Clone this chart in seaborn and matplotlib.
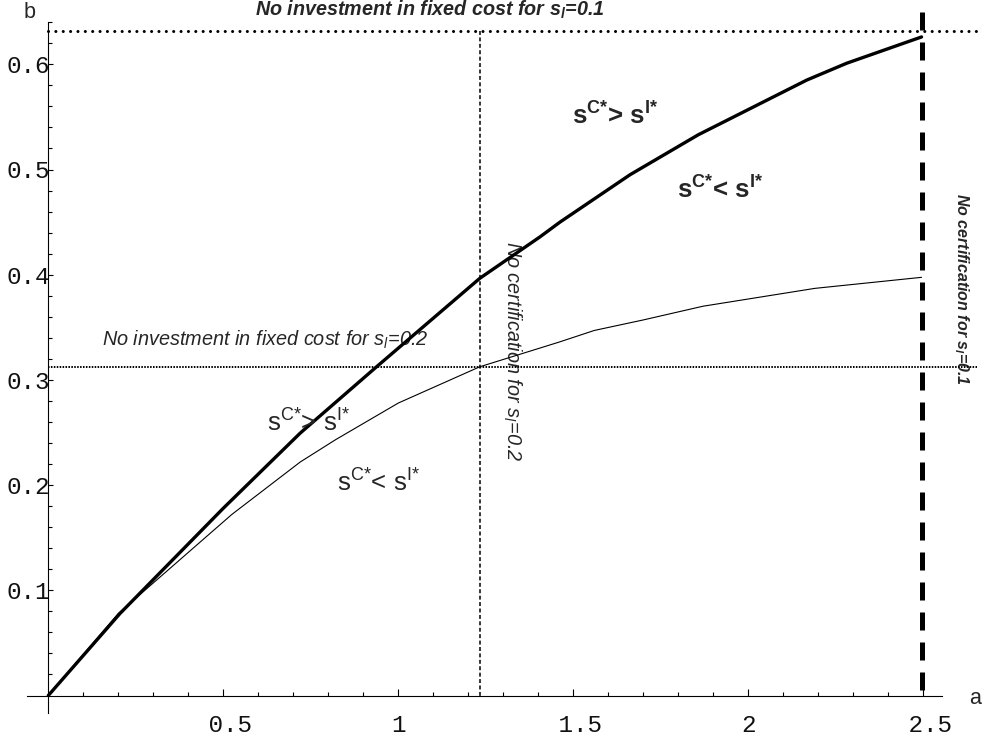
import numpy as np
import pandas as pd
import matplotlib
matplotlib.use("Agg")
import matplotlib.pyplot as plt
import seaborn as sns

# Boundary b(a) for s_l = 0.1 (thick) and s_l = 0.2 (thin)
a_thick = [0.0, 0.205, 0.5, 0.72, 0.938, 1.233, 1.405, 1.462, 1.662, 1.857, 2.167, 2.281, 2.495]
b_thick = [0.0, 0.078, 0.178, 0.2495, 0.3125, 0.3966, 0.436, 0.450, 0.495, 0.533, 0.585, 0.601, 0.626]

a_thin = [0.0, 0.2, 0.3, 0.524, 0.72, 0.82, 1.0, 1.233, 1.46, 1.56, 1.70, 1.87, 2.19, 2.495]
b_thin = [0.0, 0.078, 0.107, 0.172, 0.222, 0.243, 0.278, 0.3125, 0.336, 0.347, 0.357, 0.370, 0.387, 0.3975]

# Threshold lines
b_no_invest_01 = 0.632   # no investment in fixed cost, s_l = 0.1
b_no_invest_02 = 0.3125  # no investment in fixed cost, s_l = 0.2
a_no_cert_01 = 2.495     # no certification, s_l = 0.1
a_no_cert_02 = 1.233     # no certification, s_l = 0.2

x_major = [0.5, 1.0, 1.5, 2.0, 2.5]
x_major_labels = [" 0.5", "1", " 1.5", "2", " 2.5"]
y_major = [0.1, 0.2, 0.3, 0.4, 0.5, 0.6]
y_major_labels = ["0.1", "0.2", "0.3", "0.4", "0.5", "0.6"]

sns.set_theme(style="white")
plt.rcParams["font.family"] = ["Liberation Sans", "DejaVu Sans"]
plt.rcParams["mathtext.fontset"] = "custom"
plt.rcParams["mathtext.rm"] = "Liberation Sans"
plt.rcParams["mathtext.it"] = "Liberation Sans:italic"
plt.rcParams["mathtext.bf"] = "Liberation Sans:bold"
plt.rcParams["mathtext.bfit"] = "Liberation Sans:italic:bold"

fig = plt.figure(figsize=(9.88, 7.44), dpi=100)
ax = fig.add_axes([0, 0, 1, 1])
ax.set_facecolor("white")
ax.set_xlim(-48.3 / 350, (988 - 48.3) / 350)
ax.set_ylim((695.5 - 744) / 1052, 695.5 / 1052)

# Curves
curves = pd.DataFrame({"a": a_thick, "b": b_thick})
sns.lineplot(data=curves, x="a", y="b", ax=ax, color="black", lw=2.4, zorder=5)
curves_thin = pd.DataFrame({"a": a_thin, "b": b_thin})
sns.lineplot(data=curves_thin, x="a", y="b", ax=ax, color="black", lw=0.8, zorder=5)

# Threshold lines
ax.plot([0, 2.67], [b_no_invest_01] * 2, color="black", lw=2.2,
        linestyle=(0, (0.01, 2.4)), dash_capstyle="round", zorder=4)
ax.plot([a_no_cert_01] * 2, [0.65, 0.0], color="black", lw=3.6,
        linestyle=(0, (3.6, 2.4)), dash_capstyle="butt", zorder=4)
ax.plot([a_no_cert_02] * 2, [b_no_invest_01, 0.0], color="black", lw=1.1,
        linestyle=(0, (2.6, 1.6)), zorder=4)
ax.plot([0, 2.653], [b_no_invest_02] * 2, color="black", lw=1.4,
        linestyle=(0, (0.8, 0.7)), zorder=4)

# Axes through the origin
for side in ["top", "right"]:
    ax.spines[side].set_visible(False)
ax.spines["left"].set_position(("data", 0))
ax.spines["bottom"].set_position(("data", 0))
ax.spines["left"].set_bounds(-0.0166, 0.64)
ax.spines["bottom"].set_bounds(-0.061, 2.553)
for side in ["left", "bottom"]:
    ax.spines[side].set_color("black")
    ax.spines[side].set_linewidth(0.8)

ax.set_xticks(x_major)
ax.set_xticklabels(x_major_labels)
ax.set_xticks(np.round(np.arange(0.1, 2.51, 0.1), 2), minor=True)
ax.set_yticks(y_major)
ax.set_yticklabels(y_major_labels)
ax.set_yticks(np.round(np.arange(0.02, 0.641, 0.02), 2), minor=True)
ax.tick_params(axis="both", which="both", direction="in", color="black", width=0.8,
               bottom=True, left=True)
ax.tick_params(axis="x", which="major", length=5.4, pad=13)
ax.tick_params(axis="x", which="minor", length=2.6)
ax.tick_params(axis="y", which="major", length=3.8, pad=-1)
ax.tick_params(axis="y", which="minor", length=2.6)
for lab in ax.get_xticklabels() + ax.get_yticklabels():
    lab.set_family("Liberation Mono")
    lab.set_fontsize(17.5)
    lab.set_color("#111111")

# Axis names
ax.text(-0.0523, 0.6495, "b", fontsize=15.5, ha="center", va="center")
ax.text(2.648, -0.0033, "a", fontsize=15.5, ha="center", va="center")

# Threshold annotations
ax.text(0.5906, 0.6516, r"No investment in fixed cost for s$_{\mathbfit{l}}$=0.1",
        fontsize=14.2, fontweight="bold", fontstyle="italic", ha="left", va="center")
ax.text(0.153, 0.338, r"No investment in fixed cost for s$_{\mathit{l}}$=0.2",
        fontsize=14.3, fontstyle="italic", ha="left", va="center")
ax.text(1.326, 0.327, r"No certification for s$_{\mathit{l}}$=0.2",
        fontsize=14.3, fontstyle="italic", rotation=-90, ha="center", va="center")
ax.text(2.61, 0.3864, r"No certification for s$_{\mathbfit{l}}$=0.1",
        fontsize=11.5, fontweight="bold", fontstyle="italic", rotation=-90,
        ha="center", va="center")

# Region labels
gt_bold = r"$\mathbf{s}^{\mathbf{C{*}}}$> $\mathbf{s}^{\mathbf{I{*}}}$"
lt_bold = r"$\mathbf{s}^{\mathbf{C{*}}}$< $\mathbf{s}^{\mathbf{I{*}}}$"
gt_reg = r"$\mathrm{s}^{\mathrm{C{*}}}$> $\mathrm{s}^{\mathrm{I{*}}}$"
lt_reg = r"$\mathrm{s}^{\mathrm{C{*}}}$< $\mathrm{s}^{\mathrm{I{*}}}$"
ax.text(1.619, 0.551, gt_bold, fontsize=18.5, fontweight="bold", ha="center", va="center")
ax.text(1.919, 0.4805, lt_bold, fontsize=18.5, fontweight="bold", ha="center", va="center")
ax.text(0.742, 0.259, gt_reg, fontsize=18.5, ha="center", va="center", zorder=6)
ax.text(0.942, 0.202, lt_reg, fontsize=18.5, ha="center", va="center")

ax.set_xlabel("")
ax.set_ylabel("")
fig.savefig("out.png", dpi=100, facecolor="white")
